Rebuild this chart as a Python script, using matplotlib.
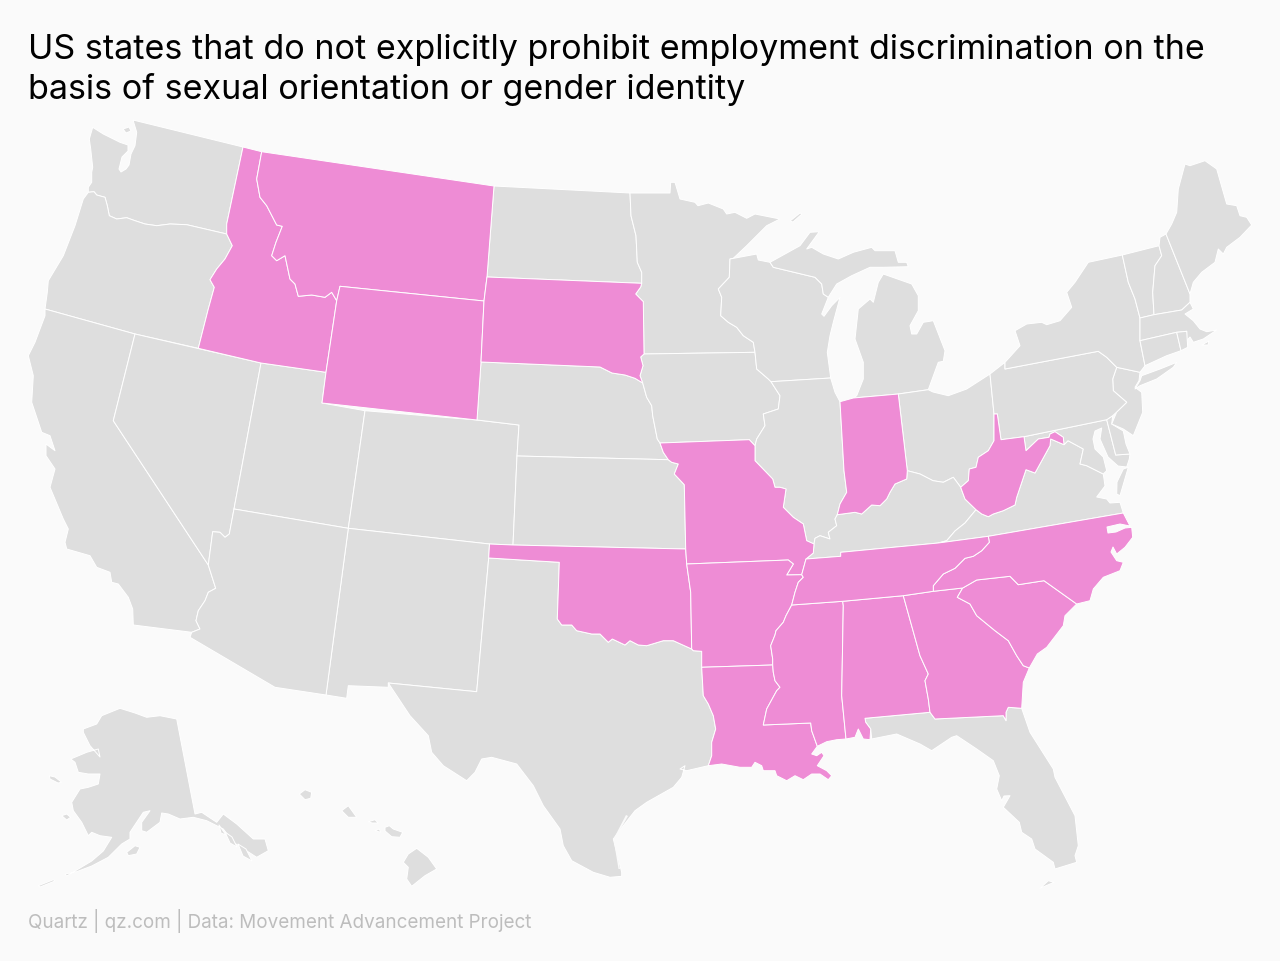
import matplotlib
matplotlib.use("Agg")
import matplotlib.pyplot as plt
from matplotlib.patches import Polygon

TITLE = "US states that do not explicitly prohibit employment discrimination on the\nbasis of sexual orientation or gender identity"
SOURCE = "Quartz | qz.com | Data: Movement Advancement Project"
BG, GREY, PINK, EDGE = "#fafafa", "#dedede", "#ee8cd5", "#ffffff"

def R(b):
    return b[::-1]

# ---- shared borders ----
WA_OR = [(226.7,235),(186.7,225.7),(170,225),(156.7,226.7),(145,225),(135,221.7),(126.7,218.7),(116.7,220),(109.3,216.7),(107.3,206.7),(105,198.3),(96.7,196),(94,192.7),(88.3,193.3)]
OR_ID = [(198.3,349.3),(208.3,310),(214.3,288.3),(210,280.7),(216.7,270),(225,260),(232.3,246.7),(226.7,235)]
ID_MT = [(261.7,152.7),(256.7,180),(260,198.3),(266.7,206.7),(276.7,226),(282.3,227.3),(276,243.3),(271.7,256.7),(276.7,261.7),(285,256.7),(290,280),(295,285),(298.3,297.3),(311.7,296),(325,298.3),(331.7,293.3),(336.7,301.7)]
ND_MN = [(630,194),(631,216.7),(636,236.7),(637.3,263.3),(641.7,273.3),(641.7,284.3)]
SD_MN = [(641.7,284.3),(640.7,288),(635.7,295),(643.3,302.7),(644,355)]
SD_IA = [(644,355),(640.7,358),(643,366.7),(640,376.7),(642.7,384)]
SD_NE = [(642.7,384),(635,379.3),(625,376),(612,374),(600,368),(481,363)]
NE_IA = [(642.7,384),(646.7,398.3),(651.7,406.7),(652.7,416.7),(657.3,440),(660,444)]
NE_MO = [(660,444),(663.3,453.3),(668.3,460.7)]
KS_MO = [(668.3,460.7),(671.7,463.3),(678.3,465),(674.3,475),(684.3,485.7),(685.7,550)]
OK_AR = [(686.7,565),(690.7,593.3),(691.7,650)]
RED_R = [(557.3,620),(561.7,626),(571.7,626),(576.7,631.7),(591.7,635),(600,635),(608.3,643.3),(612.3,640),(625,646),(630,641.7),(638.3,646),(646.7,646.7),(663.3,641.7),(673.3,641.7),(691.7,650)]
AR_TX = [(691.7,650),(693.3,651.7),(701.7,652.3),(701.7,668.3)]
LA_TX = [(701.7,668.3),(703.3,696.7),(708.3,705),(713.3,716.7),(715.7,730),(711.7,743.3),(711.7,756.7),(708.3,766.7)]
MO_AR = [(686.7,565),(788.3,561),(793.3,565),(786.7,576),(801.7,575.7)]
MO_TN = [(801.7,575.7),(806,560)]
MO_KY = [(806,560),(813.3,554),(814,545)]
MO_IL = [(814,545),(806.7,541.7),(803.3,525),(793.3,518.3),(783.3,508.3),(786,490),(780,488.3),(775,488.3),(772.7,480),(755,461.7),(755,446.7)]
AR_TN = [(801.7,575.7),(803.3,578.3),(798.3,583.3),(795,593.3),(791.7,606)]
AR_MS = [(791.7,606),(786,616.7),(783.3,623.3),(776,631.7),(775,636),(770.7,646.7),(772.7,660),(772.7,666)]
LA_MS = [(772.7,666),(773.3,673.3),(775,681.7),(780,688.3),(776.7,691.7),(766.7,710),(763.3,726),(810.7,724),(811.7,731.7),(817.3,747.3)]
MS_AL = [(842.7,602.3),(843.3,606.7),(841.7,696.7),(846,740)]
AL_GA = [(903.3,596.7),(920,656.7),(928.3,675),(925,681.7),(928.3,700),(930,713.3)]
AL_FL = [(930,713.3),(865,719.3),(865.7,723.3),(870.7,730),(870,740.7)]
GA_FL = [(930,713.3),(935,720),(1003.3,716.7),(1006,721.7),(1006,713.3),(1008.3,708.3),(1021.7,709.3)]
GA_SC = [(962.7,589),(957.3,598.3),(970,605),(976.7,616.7),(995,631.7),(1008.3,641.7),(1016.7,656.7),(1023.3,666.7),(1029.3,669)]
NC_SC = [(962.7,589),(976.7,581),(1010,577.3),(1018.3,585.7),(1044,581.7),(1076.7,605)]
TN_NC = [(988.3,537.3),(989.3,543.3),(981.7,551.7),(973.3,557.3),(965,559.3),(955,569.3),(943.3,575),(933.3,586.7),(933.3,592.3)]
TN_TOP_KY = [(806,560),(840.7,557.3),(840.7,553.3),(938.3,544)]
KY_VA = [(938.3,544),(946.7,541.7),(955,532),(965,524),(976,510.7)]
IL_KY = [(837.3,515.7),(835,520),(836.7,526.7),(828.3,533.3),(830,540),(820,536.7),(815,539.3),(814,545)]
IN_KY = [(907.3,471.7),(906.7,480),(895,485),(890,493.3),(886.7,500),(880,506.7),(871.7,506),(861.7,515),(855,513.3),(837.3,515.7)]
OH_KY = [(960.7,488.3),(953.3,478.3),(943.3,483.3),(933,481.7),(920,475),(907.3,471.7)]
OH_WV = [(994,415),(994,441.7),(988.3,451.7),(978.3,458.3),(976,468.3),(969.3,470),(968.3,481.7),(960.7,488.3)]
KY_WV = [(960.7,488.3),(965,500),(976,510.7)]
VA_WV = [(976,510.7),(981.7,515),(988.3,517.7),(993.3,515),(1003.3,511.7),(1015,506),(1016.7,498.3),(1026,470.7),(1035,474),(1050,446.7),(1050.7,440),(1064,445.7)]
MD_WV = [(1064,445.7),(1063.3,438.3),(1055,432.7),(1050,435),(1049,438.3),(1038.3,440),(1026,451.7),(1024,437.7)]
VA_MD = [(1064,445.7),(1068,441.7),(1083.3,450),(1080,465),(1086.7,466.7),(1103.3,475)]
IA_IL = [(771,382.7),(780,396.7),(778.3,410),(763.3,415),(765,426.7),(756.7,440),(755,446.7)]
IA_WI = [(755,353.3),(756.7,370),(768.3,380),(771,382.7)]
MN_WI = [(730,260),(729.3,278.3),(718.3,290),(721.7,298.3),(720.7,316.7),(728.3,323.3),(736.7,328.3),(743.3,336.7),(753.3,343.3),(755,353.3)]
WI_MI = [(770,263.3),(773.3,268.3),(815,278.3),(821.7,285),(823.3,295),(828.3,298.3)]
NJ_W = [(1116.7,368.3),(1112.7,380),(1113.3,391.7),(1126.7,403.3),(1116.7,413),(1111.7,425)]
NY_PA = [(1005,363.3),(1005,370),(1098.3,352.3),(1106.7,358.3),(1116.7,368.3)]
NY_VT = [(1122.3,256),(1128.3,283.3),(1135,300),(1140,319)]
VT_NH = [(1159,246.7),(1161.7,256.7),(1155,266.7),(1152.7,293.3),(1154,315.7)]

# ---- states ----
WA = [(133,121),(243,148),(226.7,225)] + WA_OR + [(88.3,188.3),(91.7,183.3),(91.7,173.3),(92.7,168.3),(90.7,150),(89.3,140),(92.7,128.3),(103.3,135),(120,143.3),(128,146),(128,152),(122,158),(119,170),(121,173),(126,170),(129,166),(131,155),(135,146.7),(136.7,133.3)]
SAN_JUAN = [(123,130),(129,128),(131,132),(126,134)]
OREGON = WA_OR + [(83.3,200),(75,226.7),(63.3,256.7),(48.3,281.7),(47.3,293.3),(45,310),(135,335)] + OR_ID
ID = [(243,148)] + ID_MT + [(326,373.3),(261,364)] + OR_ID + [(226.7,225)]
MT = [(261.7,152.7),(494,187),(487,278),(484,302),(340,287.3)] + R(ID_MT)
WY = [(340,287.3),(484,302),(481,363),(477,421),(322,404),(326,373.3),(336.7,301.7)]
ND = [(494,187)] + ND_MN + [(487,278)]
SD = [(487,278),(641.7,284.3)] + SD_MN[1:] + SD_IA[1:] + SD_NE[1:] + [(484,302)]
NE = [(481,363)] + R(SD_NE)[1:] + NE_IA[1:] + NE_MO[1:] + [(517,457),(519,426),(477,421)]
KS = [(517,457),(668.3,460.7)] + KS_MO[1:] + [(513,546)]
OK = [(489.5,545),(513,546),(685.7,550),(686.7,565)] + OK_AR[1:] + R(RED_R)[1:] + [(559.3,563.3),(488.7,559)]
MN = [(670,194),(670.7,183.3),(675,183.3),(680,200),(695,203.3),(698,206.7),(708.3,204),(723.3,210),(726.7,215),(735,213.3),(746.7,219.3),(755,215),(780,220),(766.7,226.7),(746.7,246.7),(733.3,259.3)] + MN_WI + [(644,355)] + R(SD_MN)[1:] + R(ND_MN)[1:]
IA = [(644,355),(755,353.3)] + IA_WI[1:] + IA_IL[1:] + [(749.3,440.7),(660,444)] + R(NE_IA)[1:] + R(SD_IA)[1:-1]
MO = [(660,444),(749.3,440.7)] + R(MO_IL) + R(MO_KY)[1:] + R(MO_TN)[1:] + R(MO_AR)[1:] + [(685.7,550)] + R(KS_MO)[1:] + R(NE_MO)[1:]
AR = MO_AR + AR_TN[1:] + AR_MS[1:] + R(AR_TX)[:-1] + R(OK_AR)[:-1]
LA = [(701.7,668.3),(772.7,666)] + LA_MS[1:] + [(811.7,755),(816.7,756.7),(821.7,753.3),(824,756.7),(817.3,766.7),(826.7,771.7),(831.7,776.7),(828.3,780.7),(820,775),(811.7,775),(803.3,780.7),(795,776.7),(786.7,781.7),(776.7,776.7),(775,771.7),(763.3,771.7),(761.7,766.7),(755,763.3),(751.7,768.3),(740,768.3),(721.7,765)] + R(LA_TX)[:-1]
MS = [(791.7,606),(842.7,602.3)] + MS_AL[1:] + [(836.7,740.7),(826.7,742.7)] + R(LA_MS) + R(AR_MS)[1:-1]
AL = [(842.7,602.3),(903.3,596.7)] + AL_GA[1:] + AL_FL[1:] + [(863.3,740),(858.3,730),(855,738.3)] + R(MS_AL)[:-1]
GA = [(903.3,596.7),(933.3,592.3)] + GA_SC + [(1023.3,683.3)] + R(GA_FL)[:-1] + R(AL_GA)[:-1]
SC = NC_SC + [(1065,616.7),(1063.3,626.7),(1046.7,648.3),(1037.3,655)] + R(GA_SC)[:-1]
NC = [(988.3,537.3),(1123.3,514),(1130,527),(1120,525),(1107,528),(1108,534),(1116,533),(1125,529),(1131.7,528.3),(1132.7,538.3),(1125,548.3),(1116.7,555),(1113,548),(1111,553),(1116.7,561.7),(1123.3,563.3),(1120,571.7),(1103.3,578.3),(1093.3,590),(1090,601.7),(1076.7,605)] + R(NC_SC)[1:] + [(933.3,592.3)] + R(TN_NC)[1:-1]
TN = TN_TOP_KY + [(988.3,537.3)] + TN_NC[1:] + [(903.3,596.7),(842.7,602.3),(791.7,606)] + R(AR_TN)[1:-1] + [(801.7,575.7)]
KY = IL_KY + [(813.3,554),(806,560)] + TN_TOP_KY[1:] + KY_VA[1:] + R(KY_WV)[1:] + OH_KY[1:] + IN_KY[1:]
IL = [(771,382.7),(830.7,379),(835,393.3),(840,402.7),(844,471.7),(846.7,493.3),(840,505)] + IL_KY + MO_IL[1:] + R(IA_IL)[:-1]
IN = [(840,402.7),(853.3,399),(898.3,395)] + IN_KY + [(840,505),(846.7,493.3),(844,471.7)]
OH = [(898.3,395),(928.3,390.7),(933,393),(948.3,396.7),(966.7,390),(990,375)] + OH_WV + OH_KY[1:]
WV = [(994,415),(997.3,415),(1001,440.7),(1024,437.7)] + R(MD_WV)[1:] + R(VA_WV)[1:] + R(KY_WV)[1:] + R(OH_WV)[1:]
VA = [(1123.3,514),(988.3,537.3),(938.3,544)] + KY_VA[1:] + VA_WV[1:] + VA_MD[1:] + [(1105,487),(1096.7,498),(1106.7,500),(1110,504),(1120,503.3)]
VA_SHORE = [(1116.7,495),(1117,483),(1123.3,470),(1128.3,468.3),(1120,496.7)]
MD = [(1024,437.7),(1106.7,420.7),(1115.7,456),(1130,455),(1129.3,460),(1126.7,468),(1118,467),(1108,458),(1100,440),(1101.7,429),(1095,432),(1093,440),(1095,450),(1103.3,458),(1106.7,471.7),(1103.3,475)] + R(VA_MD)[1:] + MD_WV[1:-1]
DE = [(1106.7,420.7),(1112.7,416.7),(1111.7,425),(1123.3,432),(1126,445),(1130,455),(1115.7,456)]
NJ = [(1116.7,368.3),(1140,373.3),(1139,381.7),(1135,388.3),(1141.7,393.3),(1142.7,413.3),(1133.3,436.7),(1123.3,430)] + R(NJ_W)[:-1]
PA = NY_PA + NJ_W[1:4] + [(1116.7,413),(1112.7,416.7),(1106.7,420.7),(1024,437.7),(1001,440.7),(997.3,415),(994,415),(990,375)]
NY = [(1005,363.3),(1020,346.7),(1015,331.7),(1026.7,325),(1041.7,323.3),(1046.7,325.7),(1060,321.7),(1071.7,308.3),(1066.7,293.3),(1075,283.3),(1088.3,263.3)] + NY_VT + [(1140,341.7),(1145,366.7),(1140,373.3)] + R(NY_PA)[:-1]
LONG_ISLAND = [(1140,381.7),(1141.7,376.7),(1160,370),(1176.7,363.3),(1173.3,368.3),(1156.7,380),(1140,386.7),(1135,390)]
VT = [(1122.3,256)] + VT_NH + [(1140,319)] + R(NY_VT)[1:-1]
NH = [(1160,238.3),(1166,235),(1190,295),(1190,303.3),(1181.7,311)] + R(VT_NH)
ME = [(1166,235),(1171.7,225),(1176.7,213.3),(1178.3,190),(1185,165),(1190,166.7),(1205,161.7),(1216.7,170),(1226.7,205),(1236.7,206.7),(1240,216.7),(1246.7,218.3),(1251.7,226),(1240,238.3),(1226.7,248.3),(1223.3,255),(1218.3,250),(1215,263.3),(1201.7,273.3),(1193.3,283.3),(1190,295)]
MA = [(1140,319),(1154,315.7),(1181.7,311),(1190,303.3),(1193.3,310),(1185,315),(1193.3,321.7),(1200,330),(1206.7,332.7),(1216.7,331),(1203.3,340),(1193.3,343.3),(1190,338),(1186.7,341.7),(1186.7,332.3),(1176.7,333.3),(1140,341.7)]
CT = [(1140,341.7),(1176.7,333.3),(1181,351.7),(1166.7,356.7),(1145,366.7)]
RI = [(1176.7,333.3),(1186.7,332.3),(1187.7,348.3),(1181,351.7)]
CAPE_ISL = [(1201.7,346),(1209,342),(1208,346)]
NV_UT_E = [(261,364),(234,510),(229.3,535),(225,538.3),(220,533.3),(212.7,532.7),(208.3,566)]
NV = [(135,335)] + NV_UT_E + [(113.3,421.7)]
UT = [(261,364),(326,373.3),(322,404),(365,411.7),(348.3,529.3),(234,510)]
CO = [(365,411.7),(477,421),(519,426),(517,457),(513,546),(489.5,545),(348.3,529.3)]
NM = [(348.3,529.3),(489.5,545),(488.7,559),(476.7,692.7),(388.3,684),(388.3,688.3),(348.3,686.7),(346.7,699.3),(326,696)]
AZ_CA = [(208.3,566),(215.7,589.3),(208.3,593.3),(205,601.7),(198.3,611.7),(196,621.7),(200,630),(191.7,633.3)]
AZ = [(234,510),(348.3,529.3),(326,696),(275,688.3),(190,638.3)] + R(AZ_CA) + R(NV_UT_E)[:-2]
CA = [(45,310),(135,335),(113.3,421.7)] + AZ_CA + [(133.3,626),(132.7,610),(128.3,598.3),(118.3,585),(111.7,583.3),(110,573.3),(96.7,568.3),(90,556.7),(66.7,550),(65,543.3),(68.3,530),(63.3,520),(50,488.3),(55,470),(46,456.7),(46,445),(55,451.7),(50,436.7),(41.7,433.3),(31.7,403.3),(33.3,376.7),(28.3,356.7),(35,343.3),(45,316.7)]
TX = [(388.3,684),(476.7,692.7),(488.7,559),(559.3,563.3)] + RED_R + AR_TX[1:] + LA_TX[1:] + [(686.7,771.7),(680,770),(685,766.7),(681.7,778.3),(673.3,788.3),(646.7,803.3),(635,811.7),(623.3,826.7),(613.3,840),(621.7,873.3),(621.7,877.3),(610,878.3),(593.3,873.3),(571.7,861.7),(563.3,846.7),(560,830),(543.3,806.7),(533.3,786.7),(516.7,765),(491.7,758.3),(481.7,760),(475,773.3),(466.7,781.7),(443.3,766.7),(431.7,753.3),(428.3,736.7),(410,716.7)]
FL = GA_FL[:] + [(1030,733.3),(1053.3,770),(1055,778.3),(1075,816.7),(1078.3,846.7),(1075,856.7),(1076.7,863.3),(1055,870),(1053.3,863.3),(1035,850),(1031.7,840),(1021.7,833.3),(1019.3,823.3),(1003.3,808.3),(1010,796.7),(1004,797),(1001.7,801.7),(996.7,790),(999.3,776.7),(993.3,761.7),(976.7,750),(956.7,736.7),(951.7,738.3),(931.7,751.7),(920,745),(896.7,735),(871.7,740)] + R(AL_FL)[1:-1]
FL_KEYS = [(1040,889.3),(1048.3,881.7),(1054,883.3)]
WI = [(730,260),(756.7,255),(758.3,261)] + WI_MI + [(821.7,315),(824,317.3),(831.7,306.7),(840,298.3),(833.3,323.3),(830,336.7),(827.3,353.3),(830.7,379),(771,382.7)] + R(IA_WI)[1:] + R(MN_WI)[1:-1]
MI_UP = WI_MI + [(836.7,285),(851.7,276.7),(870,268.3),(883.3,268.3),(908.3,267.7),(906.7,263.3),(898.3,263.3),(895,251.7),(875,251.7),(871.7,248.3),(853.3,253.3),(838.3,260),(823.3,255),(811.7,248.3),(806.7,250),(819.3,232.7),(810,233.3),(800,246.7)]
MI_LP = [(856.7,396.7),(863.3,380),(863.3,363.3),(855,340),(858.3,310),(870,300),(873.3,303.3),(878.3,283.3),(883.3,275),(911.7,285),(918.3,296.7),(918.3,311.7),(910,326.7),(911.7,335),(916.7,335),(923.3,323.3),(933.3,321.7),(945,351.7),(943.3,362.3),(938.3,363.3),(928.3,390.7),(898.3,395),(853.3,399)]
ISLE_ROYALE = [(790,222),(800,214),(802,215),(793,223)]
AK = [(176.7,720),(195,815),(201.7,813.3),(216.7,823.3),(223.3,815),(236.7,825),(253.3,840),(265,840),(268.3,851.7),(256.7,858.3),(233.3,843.3),(223.3,830),(206.7,821.7),(193.3,818.3),(180,820),(168.3,815),(161.7,814),(160,823.3),(146.7,833.3),(141.7,831.7),(141.7,823.3),(150,811.7),(143.3,813.3),(130,833.3),(130,840),(121.7,845),(108.3,858.3),(91.7,867),(76.7,872.7),(65,875),(66.7,877),(85,866),(91.7,862),(103.3,852),(111.7,838.3),(100,836.7),(91.7,833.3),(88.3,836.7),(81.7,823.3),(73.3,811.7),(71.7,803.3),(80,790),(88.3,788.3),(98.3,785),(100,775),(88.3,775),(78.3,773.3),(75,763.3),(70.7,760),(86.7,753.3),(98.3,750),(100,758),(90,746.7),(83.3,733.3),(83.3,730),(96.7,725),(101.7,716.7),(120,709.3),(135,714),(146.7,718.3),(160,716.7)]
AK_ISLANDS = [
    [(49.3,776.7),(55,778),(61.7,783.3),(58,784),(50,780)],
    [(61.7,816.7),(66.7,815),(70.7,818.3),(66.7,821)],
    [(126.7,853.3),(135,846.7),(140,848.3),(136.7,855),(128.3,856.7)],
    [(38.3,886.7),(53.3,880.7),(55,882),(40,888)],
    [(225,833),(232,838),(237,848),(230,844)],
    [(238,845),(246,850),(252,862),(243,857)],
    [(219,826),(226,836),(221,834)],
]
HI = [
    [(299.3,795),(305,790.7),(311.7,793.3),(310.7,799.3),(305,800.7)],
    [(341.7,811.7),(348.3,806.7),(356.7,818.3),(348.3,818.3)],
    [(368.3,822.7),(375,820.7),(378.3,824),(372,824)],
    [(375,831.7),(379.3,830),(380.7,833.3)],
    [(385,828.3),(389.3,826.7),(393.3,830),(402.7,833.3),(400,838.3),(391.7,837.7),(385,832)],
    [(416.7,849.3),(428.3,858.3),(436.7,870),(425,876.7),(411.7,887.3),(406.7,880),(408.3,868.3),(403.3,863.3),(408.3,855)],
]
LAGOON = [(628,817),(615,840),(620,870),(618.5,870),(613.5,840),(626,816)]

GREY_SHAPES = [WA, SAN_JUAN, OREGON, CA, NV, UT, CO, NM, AZ, TX, ND, NE, KS, MN, IA, WI, IL, MI_UP, MI_LP, ISLE_ROYALE,
               OH, KY, VA, VA_SHORE, MD, DE, NJ, PA, NY, LONG_ISLAND, VT, NH, ME, MA, CT, RI, CAPE_ISL,
               FL, FL_KEYS, AK] + AK_ISLANDS + HI
PINK_SHAPES = [ID, MT, WY, SD, OK, MO, AR, LA, MS, AL, GA, SC, NC, TN, IN, WV]

fig = plt.figure(figsize=(12.8, 9.62), dpi=100, facecolor=BG)
ax = fig.add_axes([0, 0, 1, 1])
ax.set_xlim(0, 1280)
ax.set_ylim(962, 0)
ax.axis("off")

for shape in GREY_SHAPES:
    ax.add_patch(Polygon(shape, closed=True, facecolor=GREY, edgecolor=EDGE, linewidth=0.7, joinstyle="round"))
for shape in PINK_SHAPES:
    ax.add_patch(Polygon(shape, closed=True, facecolor=PINK, edgecolor=EDGE, linewidth=0.7, joinstyle="round"))
ax.add_patch(Polygon(LAGOON, closed=True, facecolor=BG, edgecolor="none"))

ax.text(28, 34.5, TITLE, family="Inter", fontsize=24.53, color="#000000", va="top", ha="left", linespacing=1.245)
ax.text(28, 921, SOURCE, family="Inter", fontsize=13.57, color="#bdbdbd", va="center", ha="left")

fig.savefig("out.png", dpi=100, facecolor=BG)
